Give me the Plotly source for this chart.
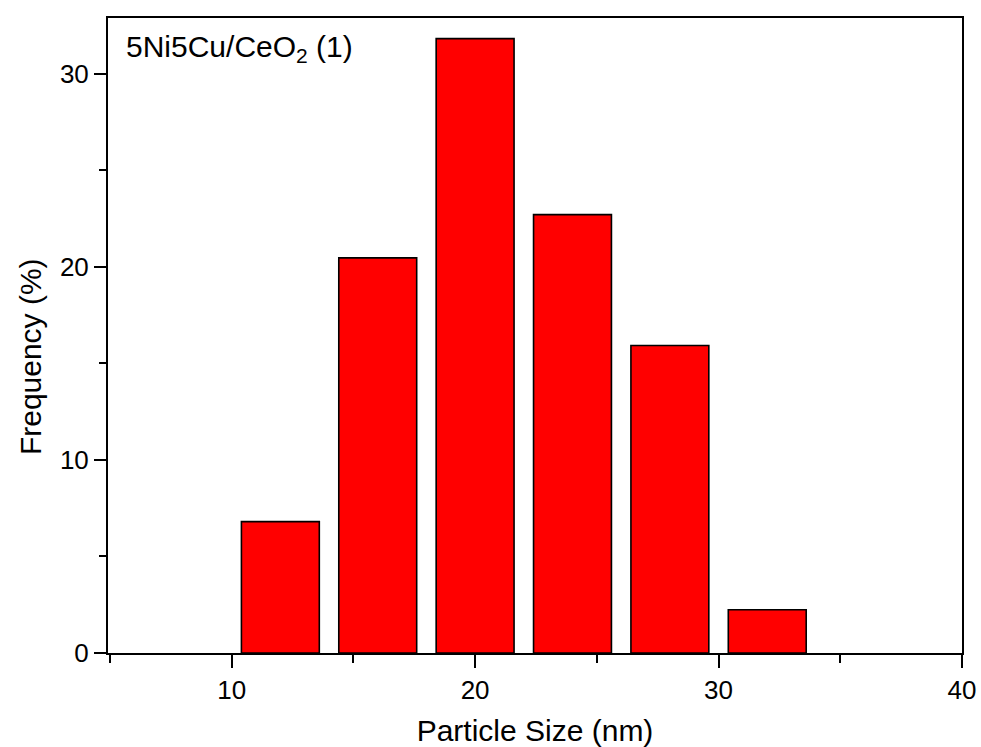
import plotly.graph_objects as go

bin_centers = [12, 16, 20, 24, 28, 32]
frequency = [6.8, 20.46, 31.81, 22.70, 15.92, 2.24]

fig = go.Figure()
fig.add_trace(go.Bar(
    x=bin_centers, y=frequency, width=3.2,
    marker=dict(color="#ff0000", line=dict(color="black", width=1.6)),
))

font = "Liberation Sans, Arial, sans-serif"
fig.update_layout(
    width=981, height=747,
    margin=dict(l=108, r=19, t=18, b=94),
    paper_bgcolor="white", plot_bgcolor="white",
    showlegend=False,
    font=dict(family=font, color="black"),
    xaxis=dict(
        range=[4.92, 40], tick0=0, dtick=10,
        ticks="outside", ticklen=13, tickwidth=2, tickcolor="black",
        showline=True, linewidth=2, linecolor="black", mirror=True,
        showgrid=False, zeroline=False, automargin=False,
        tickfont=dict(size=26),
        minor=dict(dtick=5, tick0=0, ticks="outside", ticklen=8, tickwidth=2, tickcolor="black", showgrid=False),
        title=dict(text="Particle Size (nm)", font=dict(size=30), standoff=16),
    ),
    yaxis=dict(
        range=[0, 32.88], tick0=0, dtick=10,
        ticks="outside", ticklen=12, tickwidth=2, tickcolor="black",
        showline=True, linewidth=2, linecolor="black", mirror=True,
        showgrid=False, zeroline=False, automargin=False,
        tickfont=dict(size=26),
        minor=dict(dtick=5, tick0=0, ticks="outside", ticklen=7, tickwidth=2, tickcolor="black", showgrid=False),
    ),
    annotations=[
        dict(
            text="5Ni5Cu/CeO<sub>2</sub> (1)", xref="paper", yref="paper",
            x=0.019, y=0.985, xanchor="left", yanchor="top", showarrow=False,
            font=dict(size=30, family=font),
        ),
        dict(
            text="Frequency (%)", xref="paper", yref="paper",
            x=-0.0913, y=0.466, xanchor="center", yanchor="middle", showarrow=False,
            textangle=-90, font=dict(size=30, family=font),
        ),
    ],
)

fig.write_html("out.html")
